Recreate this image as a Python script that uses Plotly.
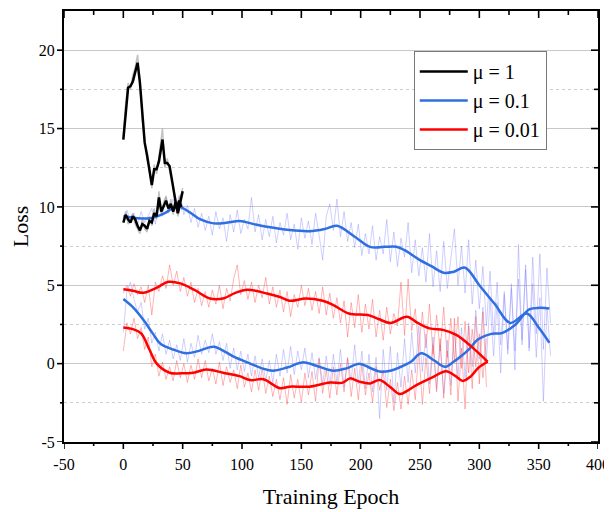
import plotly.graph_objects as go

# ---------------- data ----------------
raw_epochs_blue = list(range(0, 361, 3))
raw_epochs_red = list(range(0, 307, 3))

blue1_raw = [9.0, 9.8, 9.1, 9.6, 8.9, 9.7, 9.0, 9.5, 9.9, 8.9, 10.3, 9.4, 10.6, 9.7, 10.5, 9.6, 10.8, 9.5, 10.1, 9.0,
             9.9, 8.7, 9.6, 8.5, 9.4, 8.2, 9.7, 8.6, 9.3, 7.8, 9.5, 8.4, 9.8, 8.3, 9.2, 8.6, 10.6, 8.4, 9.5, 7.9,
             9.2, 8.1, 9.4, 7.7, 9.0, 8.2, 9.6, 7.9, 8.9, 7.3, 9.3, 8.0, 9.1, 7.6, 9.6, 8.2, 6.6, 9.4, 10.2, 8.5,
             10.5, 8.1, 9.7, 7.8, 9.0, 7.4, 8.9, 6.9, 8.3, 7.0, 8.8, 6.6, 8.1, 7.0, 9.2, 6.5, 8.4, 6.2, 8.0, 6.8,
             9.0, 5.8, 7.9, 5.6, 7.4, 5.2, 8.3, 4.9, 7.2, 4.6, 7.8, 4.8, 6.9, 8.6, 5.0, 7.5, 4.5, 7.9, 3.8, 6.6,
             3.5, 6.2, 2.4, 5.9, 1.8, 5.2, 1.2, 4.6, 0.9, 4.8, 0.8, 5.4, 1.5, 6.0, 1.0, 5.1, 0.4, 4.2, -2.4, 3.6,
             0.5]
blue2_raw = [2.0, 4.6, 5.2, 4.1, 3.3, 3.9, 2.2, 2.9, 1.3, 2.0, 0.8, 1.9, 0.6, 1.5, 0.3, 1.2, 0.2, 1.6, 0.1, 1.3,
             0.4, 1.8, 0.6, 1.5, 0.7, 1.9, 0.6, 1.4, 0.2, 1.3, -0.3, 1.0, -0.4, 0.8, -0.5, 0.6, -0.8, 0.5, -0.9, 0.3,
             -1.1, 0.2, -1.2, 0.6, -0.8, 0.9, -0.6, 1.1, -0.7, 0.8, -0.4, 1.0, -0.9, 0.7, -1.0, 0.4, -1.3, 0.5, -1.4, 0.6,
             -1.2, 0.9, -1.5, 0.3, -1.1, 1.2, -1.3, 0.8, -1.6, 0.6, -1.8, 0.4, -3.5, 0.9, -1.7, 1.1, -2.5, 0.7, -1.5, 1.6,
             -1.2, 2.0, -0.6, 2.4, -0.5, 1.9, -1.3, 1.7, -1.6, 1.2, -1.9, 1.5, -1.4, 2.1, -0.8, 2.3, -0.9, 2.6, -0.2, 3.4,
             0.3, 3.6, 0.2, 4.1, 0.5, 3.9, -0.6, 4.4, 0.6, 5.1, -0.4, 7.6, 1.2, 6.3, 0.8, 6.8, 1.9, 7.0, 0.9, 6.1,
             2.6]
red1_raw = [4.5, 5.0, 4.3, 5.1, 4.4, 4.9, 3.9, 5.0, 3.1, 5.2, 4.6, 5.6, 4.8, 6.3, 5.0, 5.9, 4.6, 5.5, 4.3, 5.2,
            3.9, 4.8, 3.7, 4.6, 3.6, 4.7, 3.8, 5.0, 3.5, 4.8, 4.0, 5.4, 6.3, 4.4, 5.3, 4.1, 5.2, 3.9, 5.0, 4.2,
            5.5, 3.8, 4.9, 3.6, 4.7, 3.3, 4.6, 3.0, 4.4, 3.6, 5.0, 3.7, 4.8, 3.4, 4.6, 3.2, 4.9, 3.1, 4.5, 2.9,
            4.2, 2.6, 4.0, 1.7, 3.9, 2.3, 4.4, 2.0, 3.8, 2.2, 4.1, 1.7, 3.4, 1.5, 3.6, 1.9, 3.2, 2.4, 5.2, 1.8,
            5.4, 2.1, 3.5, 0.9, 3.3, 1.0, 3.8, 0.6, 3.1, 0.8, 3.6, 0.4, 2.9, 0.2, 3.0, -0.3, 2.7, -0.6, 2.2, -0.2,
            1.9, -0.9, 1.6]
red2_raw = [0.8, 2.6, 1.9, 2.9, 1.6, 2.3, 0.9, 1.7, -0.2, 0.6, -0.8, 0.1, -1.0, -0.2, -1.1, 0.2, -0.9, 0.0, -1.2, -0.1,
            -1.0, 0.3, -0.9, 0.2, -1.1, -0.3, -1.3, 0.1, -1.4, -0.2, -1.2, -0.4, -1.6, -0.1, -1.5, -0.6, -1.8, -0.4, -1.7, -0.3,
            -1.9, -0.8, -2.1, -1.0, -2.3, -0.9, -2.6, -0.7, -2.2, -1.0, -2.5, -0.6, -2.0, -0.5, -2.4, 0.3, -1.9, -0.4, -2.2, -0.2,
            -2.0, 0.0, -1.8, 0.4, -2.1, -0.3, -2.3, -0.1, -2.0, -0.6, -2.5, -0.2, -1.7, -0.4, -2.8, -1.0, -3.0, -1.2, -2.9, -0.8,
            -2.6, -0.4, -2.3, 0.9, -2.6, 0.4, -1.9, 1.2, -1.8, 1.6, -2.2, 0.8, -2.0, 2.9, -2.4, 1.0, -2.9, 2.4, -1.6, 3.0,
            -1.3, 3.3, -1.5]

blue1_ep = [0, 10, 22, 35, 45, 55, 65, 76, 88, 98, 110, 121, 140, 157, 170, 180, 195, 208, 220, 230, 237, 250, 260,
            270, 278, 288, 300, 313, 326, 340, 350, 359]
blue1 = [9.4, 9.3, 9.27, 9.6, 10.05, 9.7, 9.2, 8.95, 9.0, 9.1, 8.9, 8.73, 8.52, 8.45, 8.6, 8.8, 8.1, 7.45, 7.45,
         7.46, 7.24, 6.6, 6.2, 5.8, 5.85, 6.12, 5.0, 3.8, 2.6, 3.2, 2.3, 1.33]
blue2_ep = [0, 8, 17, 25, 31, 42, 53, 63, 76, 86, 93, 107, 117, 126, 138, 151, 165, 177, 188, 199, 208, 216, 225,
            233, 242, 251, 262, 271, 278, 284, 291, 299, 310, 319, 330, 342, 351, 359]
blue2 = [4.12, 3.6, 2.78, 1.9, 1.29, 0.9, 0.66, 0.8, 1.08, 0.75, 0.44, 0.0, -0.3, -0.45, -0.25, 0.08, -0.2, -0.45,
         -0.3, 0.0, -0.28, -0.5, -0.45, -0.23, 0.1, 0.66, 0.2, -0.2, 0.1, 0.44, 0.9, 1.55, 1.9, 1.95, 2.46, 3.46,
         3.56, 3.52]
red1_ep = [0, 8, 17, 27, 38, 48, 60, 73, 84, 94, 104, 121, 132, 140, 154, 168, 177, 190, 206, 215, 225, 239, 248,
           258, 270, 281, 295, 307]
red1 = [4.74, 4.65, 4.52, 4.8, 5.22, 5.12, 4.7, 4.16, 4.16, 4.5, 4.72, 4.48, 4.25, 4.01, 4.16, 4.01, 3.74, 3.2,
        3.1, 2.85, 2.6, 2.99, 2.6, 2.25, 2.14, 1.82, 0.97, 0.12]
red2_ep = [0, 8, 15, 22, 28, 39, 49, 59, 70, 84, 98, 107, 118, 132, 140, 157, 174, 185, 191, 199, 208, 216, 225,
           233, 240, 247, 260, 272, 280, 286, 293, 299, 307]
red2 = [2.31, 2.2, 1.93, 0.9, 0.02, -0.58, -0.62, -0.58, -0.37, -0.58, -0.8, -1.05, -1.0, -1.57, -1.47, -1.47,
        -1.21, -1.21, -0.94, -1.15, -1.26, -1.05, -1.5, -1.94, -1.7, -1.37, -0.9, -0.48, -0.8, -1.1, -0.8, -0.28,
        0.12]

black1_ep = [0, 2, 4, 6, 8, 10, 12, 14, 16, 18, 20, 22, 24, 26, 28, 30, 33, 35, 37, 39, 42, 45, 47, 49]
black1 = [14.3, 16.2, 17.6, 17.7, 18.0, 18.6, 19.2, 17.9, 15.8, 14.1, 13.3, 12.2, 11.4, 12.4, 12.4, 12.9, 14.3,
          12.8, 12.8, 12.6, 11.1, 9.9, 10.4, 10.0]
black1_raw = [14.5, 16.6, 17.9, 17.5, 18.4, 18.9, 19.7, 18.1, 15.5, 14.4, 13.0, 12.5, 11.2, 12.7, 12.1, 13.2, 15.0,
              12.5, 13.1, 12.3, 11.4, 9.6, 10.7, 9.8]
black2_ep = [0, 2, 4, 6, 8, 10, 12, 14, 16, 18, 20, 22, 24, 26, 28, 30, 32, 34, 36, 38, 40, 42, 44, 46, 48, 50]
black2 = [9.0, 9.5, 9.2, 9.0, 9.4, 9.2, 8.8, 8.5, 8.9, 8.8, 8.6, 9.1, 9.0, 9.6, 9.4, 10.6, 9.7, 10.0, 10.4, 9.9,
          10.2, 9.7, 10.3, 9.6, 10.3, 11.0]
black2_raw = [9.2, 9.7, 8.9, 9.3, 9.6, 8.9, 8.6, 8.3, 9.2, 8.6, 8.4, 9.4, 8.8, 9.9, 9.2, 11.0, 9.5, 10.3, 10.7, 9.6,
              10.5, 9.5, 10.6, 9.4, 10.5, 11.2]

legend_names = ["\u03bc = 1", "\u03bc = 0.1", "\u03bc = 0.01"]

x_ticks = [-50, 0, 50, 100, 150, 200, 250, 300, 350, 400]
x_ticktext = ["-50", "0", "50", "100", "150", "200", "250", "300", "350", "400"]
x_minor = [-25, 25, 75, 125, 175, 225, 275, 325, 375]
y_ticks = [-5, 0, 5, 10, 15, 20]
y_ticktext = ["-5", "0", "5", "10", "15", "20"]
y_minor = [-2.5, 2.5, 7.5, 12.5, 17.5]

# ---------------- styles ----------------
BLACK = "#000000"
BLUE = "#2F6FE0"
RED = "#FF0000"
BLUE_RAW = "rgba(130,130,255,0.38)"
RED_RAW = "rgba(255,70,70,0.40)"
GRAY_RAW = "rgba(120,120,120,0.45)"
FONT = "Liberation Serif"
MAJOR_LEN, MINOR_LEN, TICK_W = 7, 4, 1.6

fig = go.Figure()

def add(x, y, color, width, name=None, show=False, shape="linear", rank=None):
    fig.add_trace(go.Scatter(
        x=x, y=y, mode="lines", name=name, showlegend=show,
        line=dict(color=color, width=width, shape=shape, smoothing=1.0 if shape == "spline" else None),
        hoverinfo="skip", legendrank=rank if rank is not None else 1000,
    ))

# raw noisy traces
add(raw_epochs_blue, blue1_raw, BLUE_RAW, 1)
add(raw_epochs_blue, blue2_raw, BLUE_RAW, 1)
add(raw_epochs_red, red1_raw, RED_RAW, 1)
add(raw_epochs_red, red2_raw, RED_RAW, 1)
add(black1_ep, black1_raw, GRAY_RAW, 1.5)
add(black2_ep, black2_raw, GRAY_RAW, 1.5)

# smoothed traces
add(blue1_ep, blue1, BLUE, 2.5, legend_names[1], True, "spline", 2)
add(blue2_ep, blue2, BLUE, 2.5, shape="spline")
add(red1_ep, red1, RED, 2.5, legend_names[2], True, "spline", 3)
add(red2_ep, red2, RED, 2.5, shape="spline")
add(black1_ep, black1, BLACK, 2.5, legend_names[0], True, "linear", 1)
add(black2_ep, black2, BLACK, 2.5)

# ---- tick marks on all four sides (outward bottom/left, inward top/right) ----
tick_line = dict(color="black", width=TICK_W)
for vals, ln in [(x_ticks, MAJOR_LEN), (x_minor, MINOR_LEN)]:
    for v in vals:
        # bottom, outward
        fig.add_shape(type="line", xref="x", yref="paper", ysizemode="pixel", yanchor=0,
                      x0=v, x1=v, y0=0, y1=-ln, line=tick_line, layer="above")
        # top, inward
        fig.add_shape(type="line", xref="x", yref="paper", ysizemode="pixel", yanchor=1,
                      x0=v, x1=v, y0=0, y1=-ln, line=tick_line, layer="above")
for vals, ln in [(y_ticks, MAJOR_LEN), (y_minor, MINOR_LEN)]:
    for v in vals:
        # left, outward
        fig.add_shape(type="line", yref="y", xref="paper", xsizemode="pixel", xanchor=0,
                      y0=v, y1=v, x0=0, x1=-ln, line=tick_line, layer="above")
        # right, inward
        fig.add_shape(type="line", yref="y", xref="paper", xsizemode="pixel", xanchor=1,
                      y0=v, y1=v, x0=0, x1=-ln, line=tick_line, layer="above")

axis_common = dict(showline=True, mirror=True, linecolor="black", linewidth=2, zeroline=False,
                   automargin=False, ticks="outside", ticklen=MAJOR_LEN,
                   tickcolor="rgba(0,0,0,0)", tickwidth=1)

fig.update_layout(
    width=604, height=504,
    margin=dict(l=56, r=14, t=3, b=70),
    paper_bgcolor="white", plot_bgcolor="white",
    font=dict(family=FONT, color="black", size=16),
    xaxis=dict(range=[-50, 400], tickmode="array", tickvals=x_ticks, ticktext=x_ticktext,
               showgrid=False, tickfont=dict(size=16, family=FONT),
               title=dict(text="Training Epoch", font=dict(size=22, family=FONT), standoff=16),
               **axis_common),
    yaxis=dict(range=[-5, 22.5], tickmode="array", tickvals=y_ticks, ticktext=y_ticktext,
               ticklabelstandoff=-3,
               showgrid=True, gridcolor="rgb(200,200,200)", gridwidth=1,
               tickfont=dict(size=16, family=FONT),
               title=dict(text="Loss", font=dict(size=22, family=FONT), standoff=8),
               minor=dict(tickmode="array", tickvals=y_minor, ticks="",
                          showgrid=True, griddash="dot", gridcolor="rgb(205,205,205)", gridwidth=1),
               **axis_common),
    legend=dict(x=0.655, y=0.907, xanchor="left", yanchor="top",
                bgcolor="white", bordercolor="rgb(120,120,120)", borderwidth=1,
                font=dict(size=20, family=FONT), tracegroupgap=0, itemwidth=48),
    showlegend=True,
)

fig.write_html("out.html")
